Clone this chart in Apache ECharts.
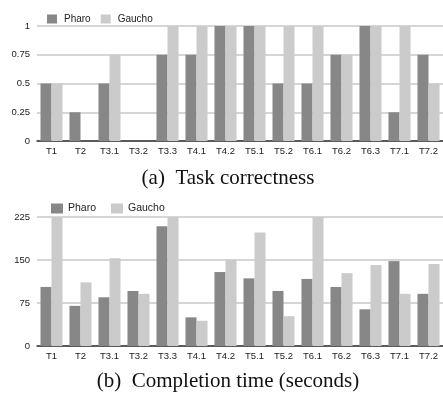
<!DOCTYPE html>
<html><head><meta charset="utf-8">
<script src="https://cdn.jsdelivr.net/npm/echarts@6/dist/echarts.min.js"></script>
<style>html,body{margin:0;padding:0;background:#fff}#c{width:443px;height:397px}</style>
</head><body><div id="c"></div>
<script>
const categories = ['T1','T2','T3.1','T3.2','T3.3','T4.1','T4.2','T5.1','T5.2','T6.1','T6.2','T6.3','T7.1','T7.2'];
const correctnessPharo  = [0.5,0.25,0.5,0,0.75,0.75,1,1,0.5,0.5,0.75,1,0.25,0.75];
const correctnessGaucho = [0.5,0,0.75,0,1,1,1,1,1,1,0.75,1,1,0.5];
const timePharo  = [103,70,85,96,209,50,129,118,96,117,103,64,148,91];
const timeGaucho = [225,111,153,91,225,44,151,198,52,225,127,141,91,143];
const correctnessTicks = [0,0.25,0.5,0.75,1];
const timeTicks = [0,75,150,225];
const seriesNames = ['Pharo','Gaucho'];
const captions = ['(a)  Task correctness','(b)  Completion time (seconds)'];

const cPharo = '#878787', cGaucho = '#cbcbcb';
const lbl = {fontFamily:'Liberation Sans, Arial, sans-serif', fontSize:9.5, color:'#222'};
const chart = echarts.init(document.getElementById('c'), null, {renderer:'canvas'});

function xAxis(gi){
  return {type:'category', gridIndex:gi, data:categories,
    axisLine:{show:true, lineStyle:{color:'#333', width:1.5}},
    axisTick:{show:false},
    axisLabel:Object.assign({margin:5, interval:0}, lbl)};
}
function yAxis(gi, ticks){
  return {type:'value', gridIndex:gi, min:ticks[0], max:ticks[ticks.length-1],
    interval:ticks[1]-ticks[0],
    axisLine:{show:false}, axisTick:{show:false},
    splitLine:{lineStyle:{color:'#c8c8c8', width:1.5}},
    axisLabel:Object.assign({margin:7, formatter:v=>String(v)}, lbl)};
}
function bar(name, data, color, gi){
  return {type:'bar', name:name, data:data, xAxisIndex:gi, yAxisIndex:gi,
    itemStyle:{color:color}, barGap:'0%', barCategoryGap:'24%', clip:true,
    emphasis:{disabled:true}, animation:false};
}
const legendFont = 'Liberation Sans, Arial, sans-serif';

chart.setOption({
  animation:false,
  grid:[{left:37, right:0, top:26, height:115},
        {left:37, right:0, top:217, height:129}],
  xAxis:[xAxis(0), xAxis(1)],
  yAxis:[yAxis(0, correctnessTicks), yAxis(1, timeTicks)],
  legend:[{left:47, top:14, padding:0, itemWidth:10, itemHeight:9, itemGap:10, icon:'rect',
           textStyle:{fontFamily:legendFont, fontSize:10, color:'#222', padding:[0,0,0,2]}, data:seriesNames},
          {left:51, top:203, padding:0, itemWidth:12, itemHeight:10, itemGap:15, icon:'rect',
           textStyle:{fontFamily:legendFont, fontSize:10.5, color:'#222', padding:[0,0,0,0]}, data:seriesNames}],
  series:[bar(seriesNames[0], correctnessPharo, cPharo, 0),
          bar(seriesNames[1], correctnessGaucho, cGaucho, 0),
          bar(seriesNames[0], timePharo, cPharo, 1),
          bar(seriesNames[1], timeGaucho, cGaucho, 1)],
  title:[{text:captions[0], left:228, top:168, padding:0, textAlign:'center',
          textStyle:{fontFamily:'Liberation Serif, Times New Roman, serif', fontSize:21, fontWeight:'normal', color:'#111'}},
         {text:captions[1], left:228, top:371, padding:0, textAlign:'center',
          textStyle:{fontFamily:'Liberation Serif, Times New Roman, serif', fontSize:21, fontWeight:'normal', color:'#111'}}]
});
</script></body></html>
